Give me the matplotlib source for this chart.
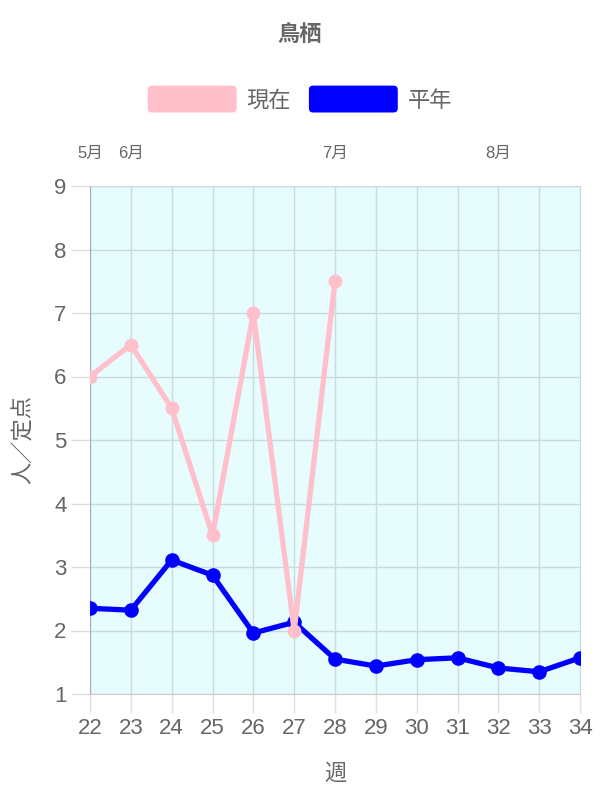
"""Weekly count chart for 鳥栖."""

import matplotlib

matplotlib.use("Agg")

import matplotlib.pyplot as plt
from matplotlib.patches import FancyBboxPatch, Patch
from matplotlib.legend_handler import HandlerPatch

plt.rcParams["font.family"] = ["Liberation Sans", "Noto Sans CJK JP"]

weeks = list(range(22, 35))
current = [6.0, 6.5, 5.5, 3.5, 7.0, 2.0, 7.5]
normal = [2.35, 2.32, 3.11, 2.87, 1.96, 2.13, 1.55, 1.44, 1.54, 1.57, 1.41, 1.35, 1.57]
month_weeks = [22, 23, 28, 32]
month_labels = ["5月", "6月", "7月", "8月"]

TEXT = "#666666"
GRID = "#c9dcdd"
TICK = "#dedede"
AXIS = "#a6adad"


class RoundHandler(HandlerPatch):
    def create_artists(self, legend, orig_handle, xdescent, ydescent,
                       width, height, fontsize, trans):
        p = FancyBboxPatch((-xdescent, -ydescent - 2), width, height + 4,
                           boxstyle="round,pad=0,rounding_size=3",
                           facecolor=orig_handle.get_facecolor(),
                           edgecolor="none", transform=trans)
        return [p]


fig = plt.figure(figsize=(6, 8), dpi=100)
ax = fig.add_axes([0.15, 0.1325, 0.8167, 0.635])
ax.set_facecolor("#e6fcfd")

ax.plot(weeks, normal, color="#0000ff", lw=3.8, marker="o", ms=9.5, zorder=3)
ax.plot(weeks[:len(current)], current, color="#ffc0cb", lw=3.8, marker="o",
        ms=9, zorder=4)

ax.set_xlim(22, 34)
ax.set_ylim(1, 9)
ax.set_xticks(weeks)
ax.set_yticks(range(1, 10))
ax.grid(True, color=GRID, lw=1)
ax.set_axisbelow(True)
ax.tick_params(axis="both", colors=TICK, labelcolor=TEXT, labelsize=16,
               length=14, width=1, pad=3)
ax.xaxis.get_major_ticks()[0].tick1line.set_color(AXIS)
ax.yaxis.get_major_ticks()[0].tick1line.set_color("#cccccc")
for side in ("top", "right"):
    ax.spines[side].set_color(GRID)
ax.spines["left"].set_color(AXIS)
ax.spines["bottom"].set_color("#cccccc")

ax.set_xlabel("週", color=TEXT, fontsize=16, labelpad=18)
ax.set_ylabel("人／定点", color=TEXT, fontsize=16, labelpad=14)

top = ax.secondary_xaxis("top")
top.set_xticks(month_weeks)
top.set_xticklabels(month_labels)
top.tick_params(length=0, labelsize=12, labelcolor=TEXT, pad=18)
top.spines["top"].set_visible(False)

fig.text(0.5, 0.956, "鳥栖", ha="center", va="center", fontsize=16,
         fontweight="bold", color=TEXT)
handles = [Patch(facecolor="#ffc0cb", label="現在"),
           Patch(facecolor="#0000ff", label="平年")]
fig.legend(handles=handles, loc="center", bbox_to_anchor=(0.5, 0.875),
           ncol=2, frameon=False, fontsize=16, labelcolor=TEXT,
           handlelength=4.0, handleheight=1.1, handletextpad=0.45,
           columnspacing=0.8, handler_map={Patch: RoundHandler()})

fig.savefig("out.png", dpi=100)
plt.close(fig)
